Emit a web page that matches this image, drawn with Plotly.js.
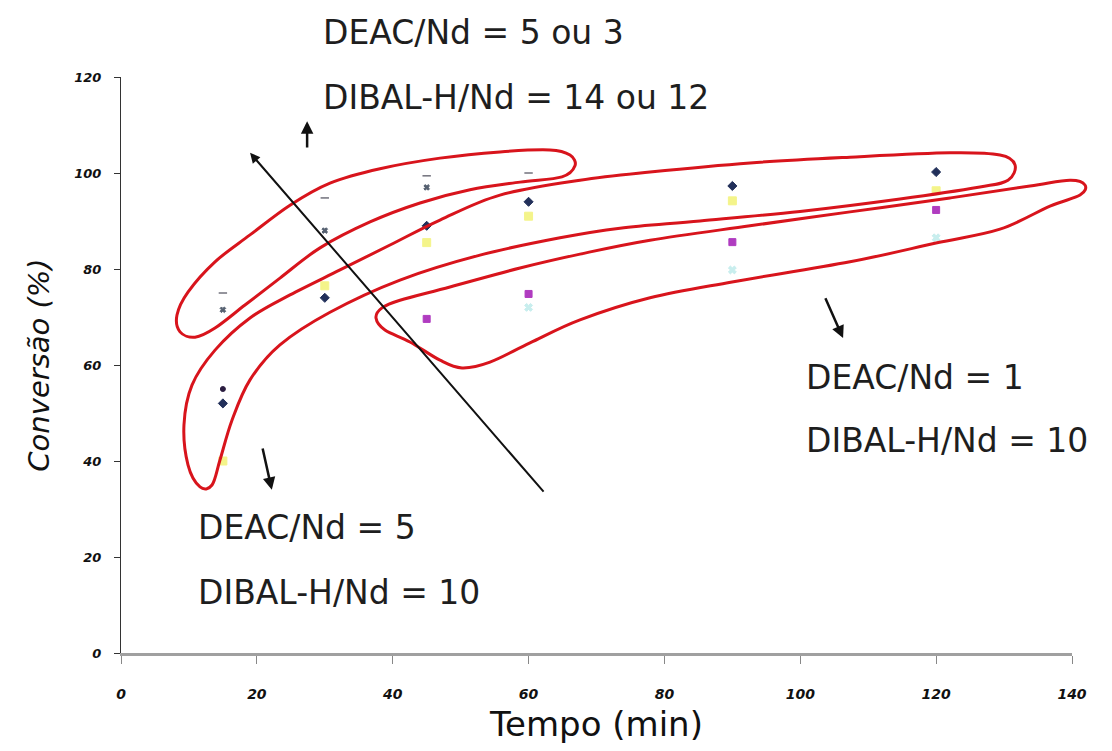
<!DOCTYPE html>
<html>
<head>
<meta charset="utf-8">
<script src="https://cdn.plot.ly/plotly-3.0.1.min.js"></script>
<style>html,body{margin:0;padding:0;background:#fff;}#chart{width:1112px;height:751px;}</style>
</head>
<body>
<div id="chart"></div>
<script>
// ---- data (time in min, conversion in %) ----
const timeA = [15, 30, 45, 60, 90, 120];
const convA = [52, 74, 89, 94, 97.3, 100.2];      // dark navy diamonds
const timeB = [15, 30, 45, 60, 90, 120];
const convB = [40, 76.5, 85.5, 91, 94.2, 96.3];   // yellow squares
const timeC = [45, 60, 90, 120];
const convC = [69.6, 74.8, 85.6, 92.3];           // magenta squares
const timeD = [60, 90, 120];
const convD = [72, 79.8, 86.5];                   // light cyan
const timeE = [15, 30, 45, 60];
const convE = [75, 94.8, 99.4, 100];              // dark dashes
const timeF = [15, 30, 45];
const convF = [71.5, 88, 97];                     // small crosses
const timeG = [15];
const convG = [55];                               // dark purple dot

const xTicks = [0, 20, 40, 60, 80, 100, 120, 140];
const yTicks = [0, 20, 40, 60, 80, 100, 120];
const X_MAX = 140, Y_MAX = 120;

// ---- hand-drawn red loops (decoration), in data units ----
const loopTop = [[8.24,70.4],[9.86,75.2],[13.84,81.5],[18.99,87.1],[24.88,93.3],[30.77,97.9],[38.13,100.9],[46.96,103.1],[55.79,104.4],[63.15,104.8],[66.1,103.75],[66.83,101.5],[64.92,99.2],[58.74,98.1],[51.38,96.5],[44.02,93.75],[36.66,89.8],[29.3,84.4],[23.4,78.1],[18.25,72.5],[13.84,67.7],[10.9,65.8],[8.69,66.9]];
const loopMid = [[11.63,34.6],[9.86,39.2],[9.27,47.5],[10.45,55.8],[13.84,63.1],[18.99,69.8],[24.88,74.6],[32.24,79.8],[39.6,85.0],[46.96,90.2],[55.79,95.4],[67.57,98.5],[77.88,100.2],[92.6,102.1],[107.32,103.3],[122.04,104.2],[129.4,103.75],[131.61,101.7],[130.58,98.5],[126.45,97.1],[114.68,94.6],[99.96,92.0],[85.24,90.0],[73.46,88.5],[64.63,86.5],[52.85,82.9],[41.07,77.7],[30.77,71.0],[23.4,64.2],[18.99,56.9],[16.34,48.5],[14.57,40.2],[13.4,35.0]];
const loopLow = [[37.54,69.8],[38.42,71.9],[41.07,73.5],[48.43,76.25],[58.74,80.2],[67.57,83.1],[77.88,86.0],[92.6,89.0],[107.32,91.9],[122.04,94.8],[133.82,97.3],[139.7,98.5],[141.91,97.5],[141.18,95.4],[136.76,93.1],[129.4,88.3],[119.98,85.4],[107.32,81.5],[89.95,77.3],[77.88,74.0],[67.57,69.4],[60.21,64.6],[54.32,60.6],[50.2,59.4],[46.96,61.0],[42.54,64.8],[38.86,67.3]];

function smoothClosed(pts){
  const P = pts.map(p => [p[0]/X_MAX, p[1]/Y_MAX]);
  const n = P.length;
  const f = v => v.toFixed(5);
  let d = 'M' + f(P[0][0]) + ',' + f(P[0][1]);
  for (let i = 0; i < n; i++){
    const p0 = P[(i-1+n)%n], p1 = P[i], p2 = P[(i+1)%n], p3 = P[(i+2)%n];
    const c1 = [p1[0] + (p2[0]-p0[0])/6, p1[1] + (p2[1]-p0[1])/6];
    const c2 = [p2[0] - (p3[0]-p1[0])/6, p2[1] - (p3[1]-p1[1])/6];
    d += ' C' + f(c1[0]) + ',' + f(c1[1]) + ' ' + f(c2[0]) + ',' + f(c2[1]) + ' ' + f(p2[0]) + ',' + f(p2[1]);
  }
  return d + ' Z';
}
const loopStyle = {color: '#d8141c', width: 3};
const shapes = [loopTop, loopMid, loopLow].map(l => ({
  type: 'path', xref: 'paper', yref: 'paper', path: smoothClosed(l), line: loopStyle, layer: 'above'
}));

function mk(x, y, symbol, color, size, lineColor){
  return {x: x, y: y, type: 'scatter', mode: 'markers', showlegend: false, hoverinfo: 'x+y',
    marker: {symbol: symbol, color: color, size: size, line: {color: lineColor || color, width: 1}}};
}
const traces = [
  mk(timeA, convA, 'diamond', '#22305a', 7),
  mk(timeB, convB, 'square', '#f4f48a', 8),
  mk(timeC, convC, 'square', '#b03cc0', 7),
  mk(timeD, convD, 'x', '#c8eeee', 7),
  mk(timeE, convE, 'line-ew', '#2a2a3a', 6, '#2a2a3a'),
  mk(timeF, convF, 'x', '#556070', 5),
  mk(timeG, convG, 'circle', '#2a1c40', 5)
];

const txtFont = {family: 'DejaVu Sans', size: 33, color: '#1e1e1e'};
function label(x, y, text){
  return {x: x / X_MAX, y: y / Y_MAX, xref: 'paper', yref: 'paper', text: text, showarrow: false,
    xanchor: 'left', yanchor: 'middle', font: txtFont};
}
function arrow(hx, hy, tx, ty, w, head){
  return {x: hx, y: hy, ax: tx, ay: ty, xref: 'x', yref: 'y', axref: 'x', ayref: 'y', text: '', showarrow: true,
    arrowhead: head, arrowsize: 1, arrowwidth: w, arrowcolor: '#111'};
}
const annotations = [
  label(29.4, 129.2, 'DEAC/Nd = 5 ou 3'),
  label(29.4, 115.8, 'DIBAL-H/Nd = 14 ou 12'),
  label(11.0, 26.2, 'DEAC/Nd = 5'),
  label(11.0, 12.7, 'DIBAL-H/Nd = 10'),
  label(100.5, 57.3, 'DEAC/Nd = 1'),
  label(100.5, 44.2, 'DIBAL-H/Nd = 10'),
  arrow(19.0, 104.2, 62.4, 33.3, 2, 2),
  arrow(27.4, 110.8, 27.4, 105.0, 2.5, 2),
  arrow(22.2, 34.0, 20.8, 42.9, 2.5, 2),
  arrow(106.3, 65.6, 103.6, 74.2, 2.5, 2)
];

const layout = {
  width: 1112, height: 751,
  margin: {l: 121, r: 40, t: 77, b: 98},
  paper_bgcolor: '#fff', plot_bgcolor: '#fff',
  showlegend: false,
  xaxis: {
    range: [0, X_MAX], tickvals: xTicks, ticktext: xTicks.map(String),
    showgrid: false, zeroline: false, showline: true, linecolor: '#a0a0a0', linewidth: 3,
    ticks: 'outside', ticklen: 8, tickcolor: '#888', tickwidth: 1, ticklabelstandoff: 18,
    tickfont: {family: 'DejaVu Sans', size: 14, color: '#111', weight: 'bold', style: 'italic'},
    title: {text: 'Tempo (min)', font: {family: 'DejaVu Sans', size: 34, color: '#111'}, standoff: 12}
  },
  yaxis: {
    range: [0, Y_MAX], tickvals: yTicks, ticktext: yTicks.map(String),
    showgrid: false, zeroline: false, showline: true, linecolor: '#333', linewidth: 1,
    ticks: 'outside', ticklen: 6, tickcolor: '#333', tickwidth: 1, ticklabelstandoff: 10,
    tickfont: {family: 'DejaVu Sans', size: 13, color: '#111', weight: 'bold', style: 'italic'},
    title: {text: 'Conversão (%)', font: {family: 'DejaVu Sans', size: 29, color: '#111', style: 'italic'}, standoff: 16}
  },
  shapes: shapes,
  annotations: annotations
};

Plotly.newPlot('chart', traces, layout, {displayModeBar: false, staticPlot: true});
</script>
</body>
</html>
